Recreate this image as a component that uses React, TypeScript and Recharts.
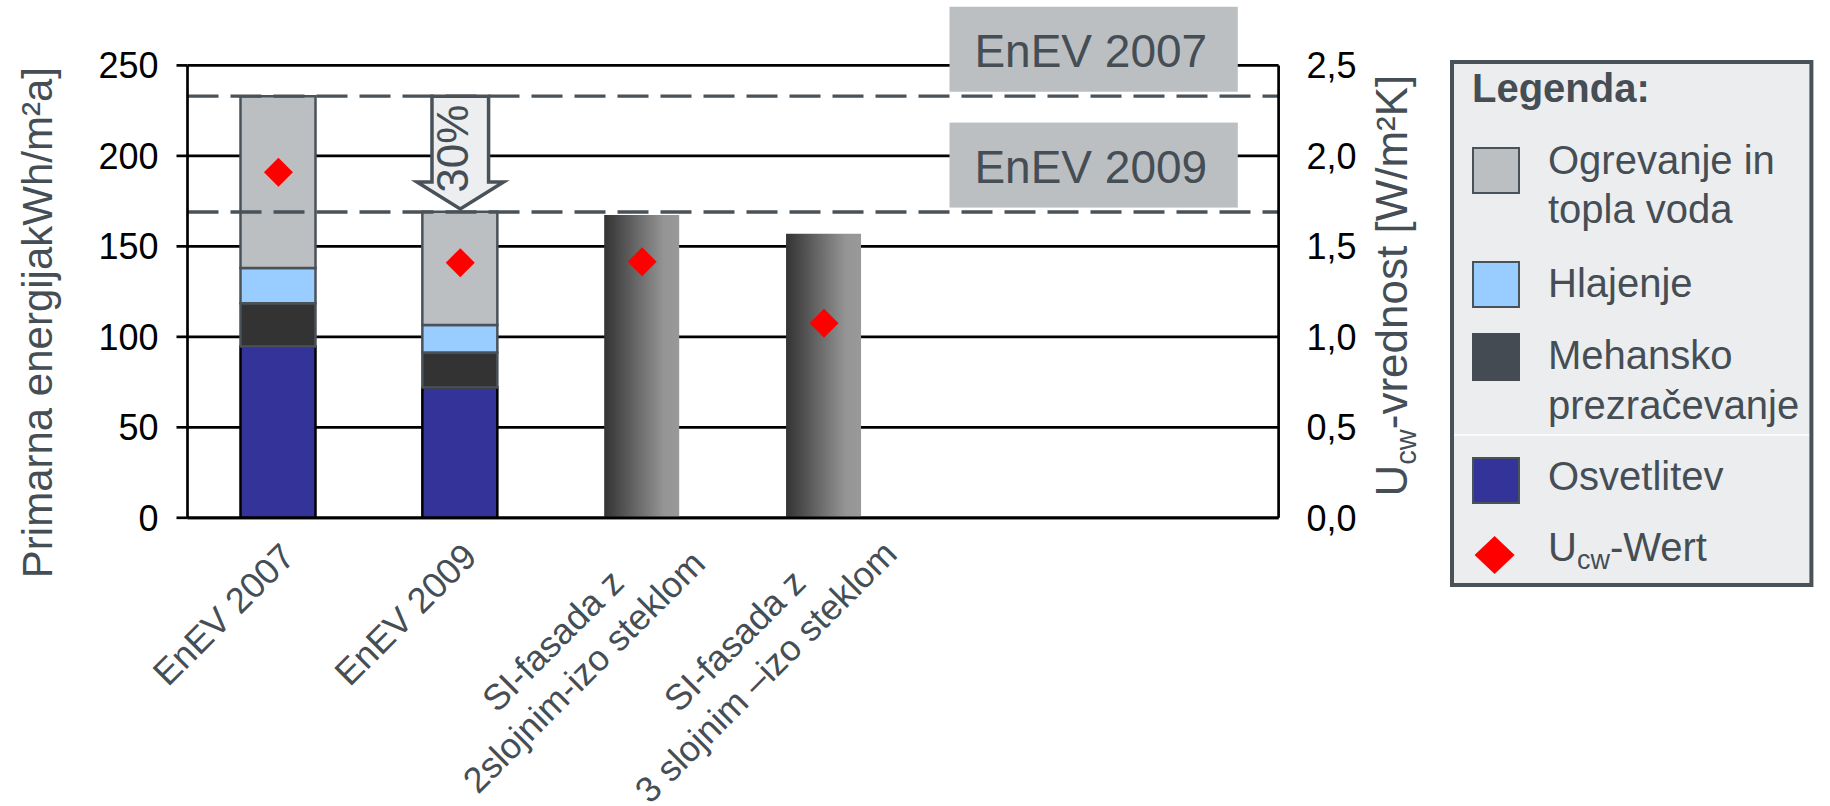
import React from "react";
import {
  ComposedChart,
  Bar,
  Line,
  XAxis,
  YAxis,
  CartesianGrid,
  ReferenceLine,
  ReferenceArea,
  Legend,
} from "recharts";

// kategorije (prazni mesti na desni ostaneta brez stolpca)
const categories = [
  "EnEV 2007",
  "EnEV 2009",
  "SI-fasada z\n2slojnim-izo steklom",
  "SI-fasada z\n3 slojnim –izo steklom",
  "",
  " ",
];

// kWh/m²a
const osvetlitev = [94.6, 72, null, null, null, null];
const mehansko = [24, 19.4, null, null, null, null];
const hlajenje = [19.4, 15.1, null, null, null, null];
const ogrevanje = [95, 62.6, null, null, null, null];
const siFasada = [null, null, 167.3, 156.9, null, null];

// W/m²K
const ucwValues = [1.91, 1.41, 1.415, 1.075, null, null];

const energyTicks = [0, 50, 100, 150, 200, 250];
const ucwTicks = [0, 0.5, 1, 1.5, 2, 2.5];

const limitLabels = ["EnEV 2007", "EnEV 2009"];
const limitValues = [233, 169];
const reductionLabel = "30%";

const data = categories.map((name, i) => ({
  name,
  osvetlitev: osvetlitev[i],
  mehansko: mehansko[i],
  hlajenje: hlajenje[i],
  ogrevanje: ogrevanje[i],
  siFasada: siFasada[i],
  ucw: ucwValues[i],
}));

const FONT = '"Liberation Sans", Arial, sans-serif';
const SLATE = "#4a5259";
const TEXT = "#454d55";

function CategoryTick({ x, y, payload }: any) {
  const lines = String(payload.value)
    .split("\n")
    .filter((s) => s.trim());
  if (!lines.length) return null;
  const multi = lines.length > 1;
  return (
    <g transform={`translate(${x},${y}) rotate(-45)`}>
      {lines.map((line, i) => (
        <text
          key={i}
          x={multi ? -150 : -16}
          y={(multi ? 36 : 42) + i * 44}
          textAnchor={multi ? "middle" : "end"}
          fill={TEXT}
          fontSize={36}
          fontFamily={FONT}
        >
          {line}
        </text>
      ))}
    </g>
  );
}

function Diamond({ cx, cy }: any) {
  if (cx == null || cy == null) return null;
  const r = 14.5;
  return (
    <polygon
      points={`${cx},${cy - r} ${cx + r},${cy} ${cx},${cy + r} ${cx - r},${cy}`}
      fill="#ff0000"
    />
  );
}

function LimitBox({ viewBox, text }: any) {
  const right = viewBox.x + viewBox.width - 40.8;
  const bottom = viewBox.y - 4.4;
  return (
    <g>
      <rect x={right - 288.3} y={bottom - 85} width={288.3} height={85} fill="#bcbfc2" />
      <text x={right - 147} y={bottom - 25} textAnchor="middle" fontSize={46} fill={TEXT} fontFamily={FONT}>
        {text}
      </text>
    </g>
  );
}

function ReductionArrow({ x, y, width, height }: any) {
  const cx = x + width / 2;
  const top = y;
  const bottom = y + height;
  const sw = 28.3;
  const hw = 43.3;
  const tip = bottom - 3;
  const headY = bottom - 30;
  const pts = [
    [cx - sw, top],
    [cx + sw, top],
    [cx + sw, headY],
    [cx + hw, headY],
    [cx, tip],
    [cx - hw, headY],
    [cx - sw, headY],
  ]
    .map((p) => p.join(","))
    .join(" ");
  return (
    <g>
      <polygon points={pts} fill="#eceef0" stroke={SLATE} strokeWidth={3.5} />
      <text
        transform={`translate(${cx + 8},${top + 52.6}) rotate(-90)`}
        textAnchor="middle"
        fontSize={44}
        fill={TEXT}
        fontFamily={FONT}
      >
        {reductionLabel}
      </text>
    </g>
  );
}

function LeftTitle({ viewBox }: any) {
  const x = viewBox.x - 15.5;
  const y = viewBox.y + viewBox.height / 2 + 31;
  return (
    <text transform={`translate(${x},${y}) rotate(-90)`} textAnchor="middle" fontSize={42} fill={TEXT} fontFamily={FONT}>
      Primarna energijakWh/m²a]
    </text>
  );
}

function RightTitle({ viewBox }: any) {
  const x = viewBox.x + 128;
  const y = viewBox.y + viewBox.height / 2 - 6;
  return (
    <text transform={`translate(${x},${y}) rotate(-90)`} textAnchor="middle" fontSize={44} fill={TEXT} fontFamily={FONT}>
      U
      <tspan fontSize={29} dy={9}>
        cw
      </tspan>
      <tspan dy={-9}>-vrednost [W/m²K]</tspan>
    </text>
  );
}

function LegendBox() {
  const sw = (top: number, fill: string, border: boolean) => (
    <rect
      x={23}
      y={top + 1}
      width={46}
      height={45}
      fill={fill}
      stroke={border ? SLATE : "none"}
      strokeWidth={2}
    />
  );
  const t = (y: number, s: React.ReactNode) => (
    <text x={98} y={y} fontSize={40} fill={TEXT} fontFamily={FONT}>
      {s}
    </text>
  );
  return (
    <svg width={364} height={527} style={{ display: "block" }}>
      <rect x={2} y={2} width={359.4} height={523} fill="#ecedef" stroke={SLATE} strokeWidth={4} />
      <text x={22} y={42} fontSize={40} fontWeight="bold" fill={TEXT} fontFamily={FONT}>
        Legenda:
      </text>
      {sw(87, "#bcbfc2", true)}
      {t(114, "Ogrevanje in")}
      {t(163, "topla voda")}
      {sw(201, "#99ccff", true)}
      {t(236.5, "Hlajenje")}
      <rect x={22} y={273} width={48} height={48} fill="#454b52" />
      {t(309, "Mehansko")}
      {t(359, "prezračevanje")}
      <line x1={4} x2={359} y1={375} y2={375} stroke="#ffffff" strokeWidth={1.5} />
      {sw(397, "#333399", true)}
      {t(430, "Osvetlitev")}
      <polygon points="44.6,476 64.6,495 44.6,514 24.6,495" fill="#ff0000" />
      {t(
        501,
        <>
          U
          <tspan fontSize={27} dy={8}>
            cw
          </tspan>
          <tspan dy={-8}>-Wert</tspan>
        </>
      )}
    </svg>
  );
}

const formatUcw = (v: number) => v.toFixed(1).replace(".", ",");

export default function App() {
  return (
    <div style={{ position: "absolute", left: 0, top: 0 }}>
      <ComposedChart
        width={1830}
        height={806}
        data={data}
        margin={{ top: 65.4, right: 401.4, bottom: 138.2, left: 67.5 }}
      >
        <defs>
          <linearGradient id="siGrad" x1="0" y1="0" x2="1" y2="0">
            <stop offset="0%" stopColor="#333333" />
            <stop offset="80%" stopColor="#959595" />
            <stop offset="100%" stopColor="#999999" />
          </linearGradient>
        </defs>
        <CartesianGrid yAxisId="left" vertical={false} stroke="#000" strokeWidth={2.7} />
        <XAxis
          dataKey="name"
          interval={0}
          height={150}
          tickSize={0}
          tickMargin={0}
          tickLine={false}
          axisLine={{ stroke: "#000", strokeWidth: 2.7 }}
          tick={(p: any) => <CategoryTick {...p} />}
        />
        <YAxis
          yAxisId="left"
          domain={[0, 250]}
          ticks={energyTicks}
          width={120}
          tickSize={11}
          tickMargin={18}
          axisLine={{ stroke: "#000", strokeWidth: 2.7 }}
          tickLine={{ stroke: "#000", strokeWidth: 2.7 }}
          tick={{ fill: "#000", fontSize: 36, fontFamily: FONT }}
          label={(p: any) => <LeftTitle {...p} />}
        />
        <YAxis
          yAxisId="right"
          orientation="right"
          domain={[0, 2.5]}
          ticks={ucwTicks}
          width={150}
          tickSize={6}
          tickMargin={22}
          tickFormatter={formatUcw}
          axisLine={{ stroke: "#000", strokeWidth: 2.7 }}
          tickLine={false}
          tick={{ fill: "#000", fontSize: 36, fontFamily: FONT }}
          label={(p: any) => <RightTitle {...p} />}
        />
        <Bar yAxisId="left" dataKey="osvetlitev" stackId="s" barSize={75} fill="#333399" stroke="#000" strokeWidth={2.5} isAnimationActive={false} />
        <Bar yAxisId="left" dataKey="mehansko" stackId="s" barSize={75} fill="#333333" stroke={SLATE} strokeWidth={2.5} isAnimationActive={false} />
        <Bar yAxisId="left" dataKey="hlajenje" stackId="s" barSize={75} fill="#99ccff" stroke={SLATE} strokeWidth={2.5} isAnimationActive={false} />
        <Bar yAxisId="left" dataKey="ogrevanje" stackId="s" barSize={75} fill="#bcbfc2" stroke={SLATE} strokeWidth={2.5} isAnimationActive={false} />
        <Bar yAxisId="left" dataKey="siFasada" stackId="s" barSize={75} fill="url(#siGrad)" isAnimationActive={false} />
        {limitValues.map((v, i) => (
          <ReferenceLine
            key={limitLabels[i]}
            yAxisId="left"
            y={v}
            stroke={SLATE}
            strokeWidth={3.3}
            strokeDasharray="31 12"
            label={(p: any) => <LimitBox {...p} text={limitLabels[i]} />}
          />
        ))}
        <ReferenceArea
          yAxisId="left"
          x1={categories[1]}
          x2={categories[1]}
          y1={limitValues[1]}
          y2={limitValues[0]}
          ifOverflow="visible"
          shape={(p: any) => <ReductionArrow {...p} />}
        />
        <Line
          yAxisId="right"
          dataKey="ucw"
          stroke="none"
          dot={(p: any) => <Diamond key={p.index} {...p} />}
          activeDot={false}
          isAnimationActive={false}
        />
        <Legend
          layout="vertical"
          align="center"
          verticalAlign="middle"
          content={() => <LegendBox />}
          wrapperStyle={{ left: 1450, top: 60, width: 364, height: 527 }}
        />
      </ComposedChart>
    </div>
  );
}
